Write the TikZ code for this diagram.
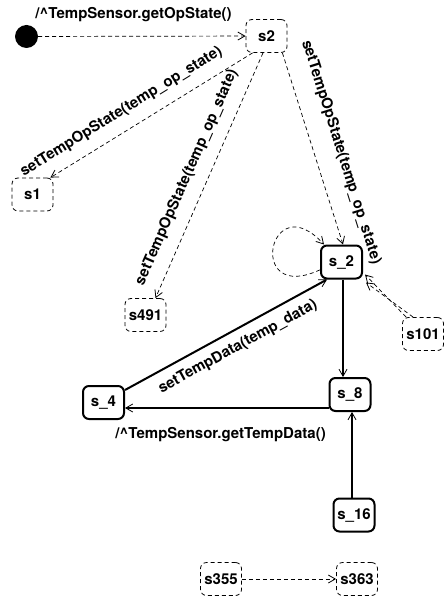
\documentclass[tikz,border=0pt]{standalone}
\usepackage{fontspec}
\setsansfont{TeX Gyre Heros}
\usepackage{tikz}
\usetikzlibrary{arrows.meta}
\tikzstyle{state}=[rectangle, rounded corners=6pt, draw, line width=2pt, minimum width=41pt, minimum height=33pt, inner sep=1pt]
\tikzstyle{dstate}=[rectangle, rounded corners=6pt, draw, line width=0.8pt, dash pattern=on 4pt off 3pt, minimum width=41pt, minimum height=33pt, inner sep=1pt]

\begin{document}
\begin{tikzpicture}[x=1pt, y=1pt]
\tikzset{>={Straight Barb[length=7pt, width=8pt, line width=0.8pt]}}

\tikzset{every node/.style={font=\sffamily\bfseries\fontsize{15pt}{16pt}\selectfont}}

%  transitions
\tikzset{trans/.style={->, line width=2pt}}
\tikzset{dtrans/.style={->, line width=0.7pt, dash pattern=on 4pt off 3pt}}

\useasboundingbox (0,0) rectangle (444,-601);

% states
\node[circle, fill, minimum size=23pt, inner sep=0pt] (init) at (26.5,-36.5) {};
\node[dstate] (s2) at (266.5,-36) {s2};
\node[dstate] (s1) at (32.5,-194.5) {s1};
\node[dstate] (s491) at (145.5,-315) {s491};
\node[state] (s_2) at (341.5,-262) {s\_2};
\node[dstate] (s101) at (423,-334) {s101};
\node[state] (s_4) at (103.5,-402.5) {s\_4};
\node[state] (s_8) at (350,-394.5) {s\_8};
\node[state] (s_16) at (354,-515) {s\_16};
\node[dstate] (s355) at (221,-579) {s355};
\node[dstate] (s363) at (357,-579) {s363};

\draw[dtrans] (init) -- (s2) node[pos=0.46, above=11pt] {/\textasciicircum TempSensor.getOpState()};

\draw[dtrans] ([xshift=7pt]s2.south west) -- ([xshift=-3pt]s1.north east)
    node[pos=0.6, sloped, above=8pt] {setTempOpState(temp\_op\_state)};
\draw[dtrans] ([xshift=-3.5pt]s2.south) -- ([xshift=10pt]s491.north)
    node[pos=0.54, sloped, above=9pt] {setTempOpState(temp\_op\_state)};
\draw[dtrans] ([xshift=-5pt]s2.south east) -- ([xshift=1.5pt]s_2.north)
    node[pos=0.56, sloped, above=15pt] {setTempOpState(temp\_op\_state)};

% self loop
\draw[dtrans] (s_2.200) .. controls +(-75,-35) and +(-55,60) .. (s_2.135);

\draw[dtrans] ([xshift=4pt]s101.north west) -- ([shift={(2pt,5pt)}]s_2.south east);
\draw[dtrans] ([xshift=11pt]s101.north west) -- ([shift={(3pt,-3pt)}]s_2.south east);

\draw[trans] ([yshift=-5pt]s_4.north east) -- ([xshift=7pt]s_2.south west)
    node[pos=0.52, sloped, below=5pt] {setTempData(temp\_data)};
\draw[trans] ([xshift=1.5pt]s_2.south) -- ([xshift=1.5pt]s_2.south |- s_8.north);
\draw[trans] ([yshift=-13.5pt]s_8.west) -- ([yshift=-13.5pt]s_8.west -| s_4.east)
    node[pos=0.53, below=15pt] {/\textasciicircum TempSensor.getTempData()};
\draw[trans] ([xshift=-2pt]s_16.north) -- ([xshift=-2pt]s_16.north |- s_8.south);

\draw[dtrans] (s355) -- (s363);

\end{tikzpicture}
\end{document}
